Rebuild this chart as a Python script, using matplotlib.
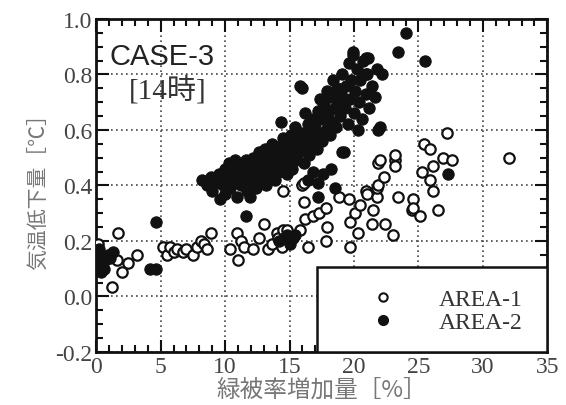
import numpy as np
import matplotlib.pyplot as plt
from matplotlib.patches import Rectangle
from matplotlib.lines import Line2D
from matplotlib.ticker import MultipleLocator

# AREA-1 (open circles)
area1_x = [0.1, 0.3, 0.8, 1.2, 1.6, 1.7, 2.0, 2.5, 3.2,
           5.2, 5.5, 5.7, 6.0, 6.3, 6.7, 7.0, 7.5, 7.8, 8.1, 8.4, 8.6, 8.9,
           10.4, 10.9, 11.0, 11.2, 11.5, 12.2, 12.6, 13.0, 13.3, 13.6, 14.0, 14.1,
           14.4, 14.5, 14.5, 14.8, 15.8, 16.0, 16.1, 16.1, 16.2, 16.4, 16.8, 17.3,
           17.8, 17.8, 17.9, 18.8, 19.6, 19.7, 19.7, 20.1, 20.3, 20.5, 20.9, 21.0,
           21.4, 21.5, 21.8, 21.8, 21.9, 21.9, 22.0, 22.3, 22.4, 23.0, 23.2, 23.2,
           23.2, 23.4, 24.5, 24.6, 24.6, 25.1, 25.3, 25.4, 25.9, 25.9, 26.1, 26.1,
           26.5, 26.9, 27.2, 27.6, 32.0]
area1_y = [0.19, 0.15, 0.14, 0.035, 0.13, 0.23, 0.09, 0.12, 0.15,
           0.18, 0.15, 0.18, 0.16, 0.17, 0.16, 0.17, 0.15, 0.18, 0.20, 0.19, 0.17, 0.23,
           0.17, 0.23, 0.13, 0.20, 0.18, 0.17, 0.21, 0.26, 0.17, 0.19, 0.23, 0.21,
           0.18, 0.24, 0.38, 0.24, 0.24, 0.40, 0.34, 0.41, 0.28, 0.18, 0.29, 0.30,
           0.32, 0.20, 0.25, 0.36, 0.35, 0.27, 0.18, 0.30, 0.23, 0.33, 0.38, 0.37,
           0.26, 0.31, 0.36, 0.39, 0.40, 0.48, 0.49, 0.43, 0.26, 0.22, 0.49, 0.47,
           0.51, 0.36, 0.31, 0.35, 0.32, 0.29, 0.45, 0.55, 0.53, 0.42, 0.47, 0.38,
           0.31, 0.50, 0.59, 0.49, 0.50]

# AREA-2 (filled circles)
area2_x = [0.0, 0.1, 0.2, 0.3, 0.4, 0.5, 0.6, 0.7, 0.9, 1.1, 1.3, 0.2, 0.4,
           4.2, 4.6, 4.6, 11.6, 14.2, 14.6, 14.8, 15.0, 15.3, 15.4,
           8.2, 8.6, 8.9, 9.0, 9.3, 9.5, 9.6, 9.8, 10.0, 10.0,
           10.2, 10.3, 10.4, 10.6, 10.7, 10.8, 10.9, 11.0,
           11.1, 11.2, 11.3, 11.5, 11.6, 11.7, 11.8, 11.9, 12.0,
           12.1, 12.2, 12.3, 12.4, 12.5, 12.6, 12.7, 12.8, 12.9,
           13.0, 13.1, 13.2, 13.3, 13.4, 13.5, 13.6, 13.7, 13.8, 13.9,
           14.0, 14.1, 14.2, 14.3, 14.4, 14.5, 14.6, 14.7, 14.8, 14.9,
           15.0, 15.1, 15.2, 15.3, 15.4, 15.5, 15.6, 15.7, 15.8, 15.9,
           16.0, 16.1, 16.2, 16.3, 16.4, 16.5, 16.6, 16.7, 16.8, 16.9,
           17.0, 17.1, 17.2, 17.3, 17.4, 17.5, 17.6, 17.7, 17.8, 17.9,
           18.0, 18.1, 18.2, 18.3, 18.4, 18.5, 18.6, 18.7, 18.8, 18.9,
           19.0, 19.1, 19.2, 19.3, 19.4, 19.5, 19.6, 19.7, 19.8, 19.9,
           20.0, 20.1, 20.2, 20.3, 20.4, 20.5, 20.6, 20.7, 20.9, 20.9,
           21.0, 21.1, 21.2, 21.4, 21.6, 21.8, 21.9, 22.0, 22.2,
           23.4, 24.0, 25.5, 27.3, 17.2, 18.5, 19.1, 18.2, 17.2, 17.6, 16.8, 16.4,
           16.0, 20.9, 19.9]
area2_y = [0.16, 0.13, 0.11, 0.15, 0.12, 0.14, 0.10, 0.13, 0.15, 0.14, 0.16, 0.17, 0.09,
           0.10, 0.10, 0.27, 0.29, 0.20, 0.21, 0.22, 0.19, 0.21, 0.22,
           0.42, 0.40, 0.43, 0.38, 0.41, 0.44, 0.35, 0.40, 0.46, 0.37,
           0.42, 0.48, 0.39, 0.45, 0.41, 0.49, 0.36, 0.43,
           0.47, 0.40, 0.45, 0.42, 0.49, 0.38, 0.44, 0.36, 0.47,
           0.41, 0.50, 0.44, 0.39, 0.47, 0.52, 0.42, 0.46, 0.49,
           0.44, 0.53, 0.40, 0.47, 0.50, 0.43, 0.55, 0.46, 0.51, 0.42,
           0.48, 0.54, 0.45, 0.63, 0.50, 0.57, 0.47, 0.52, 0.44, 0.55,
           0.50, 0.58, 0.46, 0.53, 0.61, 0.49, 0.56, 0.52, 0.76, 0.59,
           0.54, 0.48, 0.66, 0.57, 0.62, 0.51, 0.60, 0.55, 0.64, 0.58,
           0.62, 0.53, 0.67, 0.59, 0.71, 0.56, 0.64, 0.69, 0.60, 0.74,
           0.66, 0.58, 0.72, 0.63, 0.78, 0.68, 0.61, 0.75, 0.70, 0.65,
           0.73, 0.80, 0.52, 0.68, 0.76, 0.62, 0.84, 0.71, 0.78, 0.88,
           0.66, 0.74, 0.82, 0.60, 0.70, 0.78, 0.64, 0.85, 0.73, 0.86,
           0.80, 0.86, 0.68, 0.76, 0.72, 0.82, 0.60, 0.61, 0.80,
           0.88, 0.95, 0.85, 0.44, 0.36, 0.39, 0.52, 0.46, 0.41, 0.44, 0.45, 0.42,
           0.75, 0.80, 0.87]

legend_labels = ['AREA-1', 'AREA-2']

serif = ['Liberation Serif', 'DejaVu Serif']
jp = ['Noto Sans CJK JP', 'DejaVu Sans']

fig = plt.figure(figsize=(5.66, 4.06), dpi=100)
ax = fig.add_axes([0.170, 0.1305, 0.797, 0.8205])

ax.scatter(area1_x, area1_y, s=56, facecolors='white', edgecolors='#111111',
           linewidths=1.6, zorder=3)
ax.scatter(area2_x, area2_y, s=66, color='#111111', edgecolors='#111111',
           linewidths=0.8, zorder=4)

ax.set_xlim(0, 35)
ax.set_ylim(-0.2, 1.0)
ax.xaxis.set_major_locator(MultipleLocator(5))
ax.xaxis.set_minor_locator(MultipleLocator(1))
ax.yaxis.set_minor_locator(MultipleLocator(0.05))
ax.set_yticks(np.arange(-0.2, 1.01, 0.2))
ax.set_yticklabels([f'{v:.1f}' for v in np.arange(-0.2, 1.01, 0.2)])

ax.grid(True, which='major', linestyle=(0, (1, 2)), color='#444444',
        linewidth=1.2, zorder=1)
ax.tick_params(which='both', direction='in', top=True, right=True,
               width=1.5, color='#111111')
ax.tick_params(which='major', length=9, labelsize=17, labelcolor='#444444', pad=3)
ax.tick_params(which='minor', length=5)
for lab in ax.get_xticklabels() + ax.get_yticklabels():
    lab.set_family(serif)
for sp in ax.spines.values():
    sp.set_linewidth(2)
    sp.set_color('#111111')

ax.set_xlabel('緑被率増加量［%］', family=jp, fontsize=17, color='#777777',
              labelpad=0)
ax.set_ylabel('気温低下量［℃］', family=jp, fontsize=15, color='#777777',
              labelpad=4)

ax.text(0.03, 0.93, 'CASE-3', transform=ax.transAxes, fontsize=21,
        family=['Liberation Sans', 'DejaVu Sans'], color='#222222', va='top')
ax.text(0.072, 0.83, '[14時]', transform=ax.transAxes, fontsize=21,
        family=['Liberation Serif', 'Noto Sans CJK JP'], color='#333333', va='top')

# legend box in lower right
box = Rectangle((0.49, 0.0), 0.51, 0.255, transform=ax.transAxes,
                facecolor='white', edgecolor='#111111', linewidth=1.8, zorder=5)
ax.add_patch(box)
handles = [Line2D([], [], marker='o', linestyle='none', markersize=6,
                  markerfacecolor='white', markeredgecolor='#111111',
                  markeredgewidth=1.5),
           Line2D([], [], marker='o', linestyle='none', markersize=7,
                  markerfacecolor='#111111', markeredgecolor='#111111')]
leg = ax.legend(handles, legend_labels, loc='center left',
                bbox_to_anchor=(0.610, 0.123), frameon=False,
                prop={'family': serif, 'size': 17}, handlelength=1.0,
                handletextpad=1.85, labelspacing=0.05, borderpad=0,
                borderaxespad=0)
leg.set_zorder(6)
for t in leg.get_texts():
    t.set_color('#333333')

fig.savefig('out.png', dpi=100)
